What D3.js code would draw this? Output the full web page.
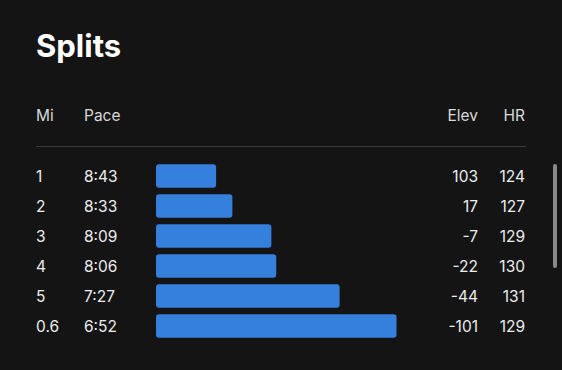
<!DOCTYPE html>
<html><head><meta charset="utf-8">
<script src="https://cdn.jsdelivr.net/npm/d3@7"></script>
<style>
html,body{margin:0;padding:0;background:#141414;}
svg{display:block;}
</style></head>
<body>
<svg id="chart" width="562" height="370"></svg>
<script>
const title = "Splits";
const headers = ["Mi", "Pace", "Elev", "HR"];
const miles = ["1", "2", "3", "4", "5", "0.6"];
const paces = ["8:43", "8:33", "8:09", "8:06", "7:27", "6:52"];
const elev = [103, 17, -7, -22, -44, -101];
const hr = [124, 127, 129, 130, 131, 129];

const W = 562, H = 370;
const font = "Inter, 'Noto Sans', sans-serif";
const svg = d3.select("#chart");
svg.append("rect").attr("width", W).attr("height", H).attr("fill", "#141414");

const paceSec = paces.map(p => { const [m, s] = p.split(":").map(Number); return m * 60 + s; });

svg.append("text").attr("x", 36).attr("y", 57)
  .attr("fill", "#ffffff").attr("font-family", font).attr("font-weight", 700)
  .attr("font-size", 31).text(title);

const colX = {Mi: 36, Pace: 84, Elev: 478, HR: 525};
const colAnchor = {Mi: "start", Pace: "start", Elev: "end", HR: "end"};
svg.append("g").selectAll("text").data(headers).join("text")
  .attr("x", d => colX[d]).attr("y", 121)
  .attr("text-anchor", d => colAnchor[d])
  .attr("fill", "#d8d8d8").attr("font-family", font).attr("font-size", 15.5)
  .text(d => d);

svg.append("line").attr("x1", 36).attr("x2", 526).attr("y1", 146.5).attr("y2", 146.5)
  .attr("stroke", "#3a3a3a").attr("stroke-width", 1);

const y = d3.scaleBand().domain(d3.range(miles.length)).range([161, 341]).paddingInner(0.22).paddingOuter(0.11);
const x = d3.scaleLinear().domain([560, 412]).range([156, 396.5]);

const rows = svg.append("g").selectAll("g").data(miles.map((m, i) => i)).join("g");
rows.append("rect")
  .attr("x", x(560)).attr("y", i => y(i))
  .attr("width", i => x(paceSec[i]) - x(560)).attr("height", y.bandwidth())
  .attr("rx", 3).attr("fill", "#3580dc");

const cols = [
  {key: "Mi", vals: miles},
  {key: "Pace", vals: paces},
  {key: "Elev", vals: elev},
  {key: "HR", vals: hr}
];
cols.forEach(c => {
  rows.append("text")
    .attr("x", colX[c.key]).attr("y", i => y(i) + y.bandwidth() / 2 + 5.8)
    .attr("text-anchor", colAnchor[c.key])
    .attr("fill", "#ececec").attr("font-family", font).attr("font-size", 15.5)
    .text(i => c.vals[i]);
});

// scrollbar
svg.append("rect").attr("x", 553).attr("y", 164).attr("width", 4).attr("height", 104)
  .attr("rx", 2).attr("fill", "#8a8a8a");
</script>
</body></html>
